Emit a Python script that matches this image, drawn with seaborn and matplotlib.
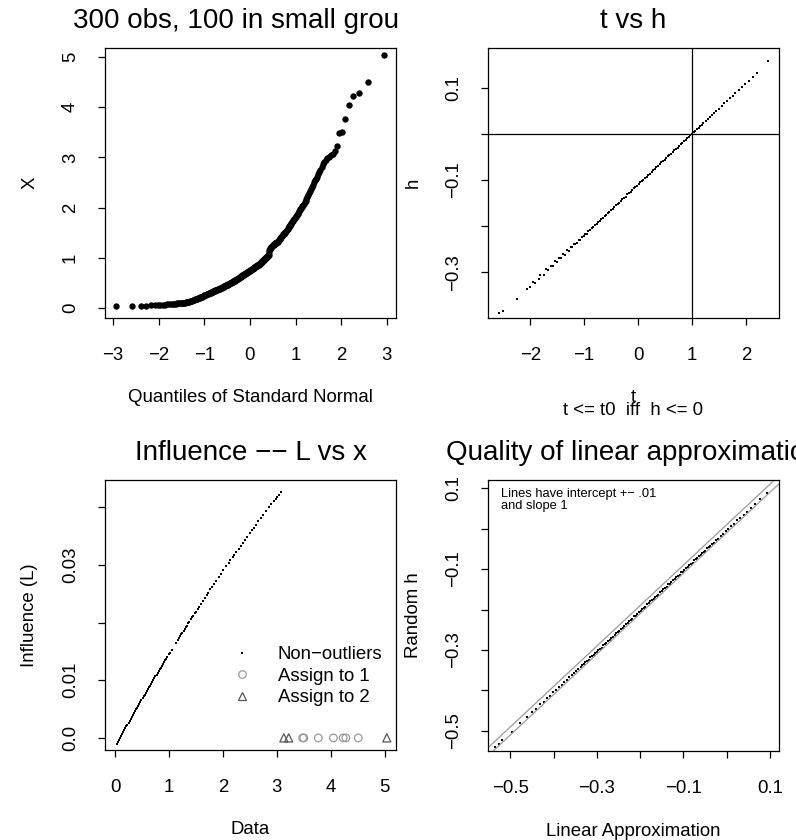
import numpy as np
import matplotlib
matplotlib.use("Agg")
import matplotlib.pyplot as plt
import seaborn as sns
from matplotlib.lines import Line2D
from matplotlib.transforms import Bbox, TransformedBbox
from statistics import NormalDist

# ---------------- data ----------------
# Panel 1: sorted sample X (300 obs); non-outliers first, outliers below
x_core = [
    0.04, 0.04, 0.04, 0.04, 0.05, 0.05, 0.05, 0.06, 0.06, 0.06, 0.07, 0.07, 0.07,
    0.08, 0.08, 0.08, 0.09, 0.09, 0.09, 0.09, 0.10, 0.10, 0.10, 0.10, 0.11,
    0.11, 0.12, 0.12, 0.13, 0.13, 0.14, 0.15, 0.15, 0.16, 0.17,
    0.17, 0.18, 0.18, 0.19, 0.19, 0.20, 0.21, 0.21, 0.22, 0.22, 0.23, 0.24, 0.25,
    0.25, 0.26, 0.26, 0.27, 0.27, 0.28, 0.28, 0.29, 0.29, 0.30, 0.30, 0.31, 0.31, 0.32, 0.32, 0.33,
    0.33, 0.34, 0.34, 0.35, 0.35, 0.35, 0.36, 0.36, 0.37, 0.37, 0.38, 0.38, 0.38, 0.39, 0.39,
    0.40, 0.40, 0.41, 0.41,
    0.42, 0.42, 0.43, 0.43, 0.44, 0.44, 0.45, 0.45, 0.45, 0.46, 0.46, 0.47, 0.47, 0.48, 0.48,
    0.49, 0.49, 0.49, 0.50, 0.50, 0.51,
    0.51, 0.52, 0.52, 0.53, 0.53, 0.54, 0.54, 0.55, 0.55, 0.56, 0.56, 0.57, 0.57, 0.58, 0.58,
    0.59, 0.59, 0.60, 0.60, 0.61, 0.61, 0.62, 0.63,
    0.63, 0.64, 0.64, 0.65, 0.65, 0.66, 0.66, 0.67, 0.67, 0.68, 0.68, 0.69, 0.69, 0.70, 0.70,
    0.71, 0.71, 0.72, 0.72, 0.73, 0.73, 0.74, 0.74,
    0.75, 0.75, 0.76, 0.76, 0.77, 0.77, 0.78, 0.78, 0.79, 0.80, 0.80, 0.81, 0.81, 0.82, 0.82,
    0.83, 0.83, 0.84, 0.84, 0.85, 0.85, 0.86, 0.86, 0.87,
    0.88, 0.88, 0.89, 0.90, 0.90, 0.91, 0.92, 0.93, 0.93, 0.94, 0.95, 0.96, 0.96, 0.97, 0.98,
    0.99, 1.00, 1.00, 1.01, 1.02, 1.03, 1.04, 1.05,
    1.06, 1.12, 1.15, 1.17, 1.19, 1.20, 1.21, 1.22, 1.23, 1.24, 1.25, 1.26, 1.26, 1.27, 1.28,
    1.29, 1.29, 1.30, 1.30, 1.31, 1.31,
    1.32, 1.33, 1.35, 1.36, 1.37, 1.38, 1.40, 1.41, 1.42, 1.43, 1.44, 1.45, 1.47, 1.48, 1.49,
    1.50, 1.51, 1.53, 1.54,
    1.56, 1.57, 1.59, 1.61, 1.63, 1.64, 1.66, 1.68, 1.70, 1.71, 1.73, 1.75, 1.77, 1.78, 1.80, 1.82,
    1.84, 1.86, 1.88, 1.90, 1.93, 1.95, 1.97, 1.99, 2.01, 2.04, 2.06, 2.08, 2.11,
    2.14, 2.18, 2.21, 2.25, 2.29, 2.33, 2.37, 2.41, 2.45, 2.50,
    2.54, 2.57, 2.61, 2.66, 2.70, 2.75, 2.80, 2.86,
    2.90, 2.94, 2.98, 3.01, 3.04, 3.07,
]
assign1_x = [3.48, 3.50, 3.77, 4.05, 4.23, 4.28, 4.51]   # "Assign to 1"
assign2_x = [3.13, 3.22, 5.04]                           # "Assign to 2"

# Panel 2: t vs h
t_h_pairs = [
    (-2.57, -0.389), (-2.51, -0.384), (-2.25, -0.357), (-2.06, -0.337), (-2.00, -0.331),
    (-1.95, -0.322), (-1.91, -0.323), (-1.84, -0.314), (-1.81, -0.306), (-1.75, -0.305),
    (-1.70, -0.293), (-1.66, -0.295), (-1.62, -0.286), (-1.58, -0.287), (-1.53, -0.275),
    (-1.50, -0.278), (-1.46, -0.268), (-1.42, -0.269), (-1.39, -0.260), (-1.35, -0.262),
    (-1.31, -0.252), (-1.28, -0.253), (-1.25, -0.245), (-1.22, -0.246), (-1.19, -0.239),
    (-1.16, -0.238), (-1.13, -0.236), (-1.10, -0.230), (-1.07, -0.229), (-1.04, -0.223),
    (-1.01, -0.222), (-0.98, -0.216), (-0.95, -0.216), (-0.92, -0.210), (-0.89, -0.209),
    (-0.86, -0.203), (-0.83, -0.202), (-0.80, -0.197), (-0.77, -0.196), (-0.74, -0.190),
    (-0.71, -0.189), (-0.68, -0.184), (-0.65, -0.182), (-0.62, -0.177), (-0.59, -0.176),
    (-0.56, -0.171), (-0.53, -0.169), (-0.50, -0.164), (-0.47, -0.162), (-0.44, -0.158),
    (-0.41, -0.155), (-0.38, -0.151), (-0.35, -0.149), (-0.32, -0.145), (-0.29, -0.142),
    (-0.26, -0.138), (-0.23, -0.136), (-0.20, -0.131), (-0.17, -0.129), (-0.14, -0.125),
    (-0.11, -0.122), (-0.08, -0.118), (-0.05, -0.116), (-0.02, -0.112), (0.01, -0.109),
    (0.04, -0.105), (0.07, -0.102), (0.10, -0.099), (0.13, -0.095), (0.16, -0.093),
    (0.19, -0.089), (0.22, -0.086), (0.25, -0.082), (0.28, -0.079), (0.31, -0.076),
    (0.34, -0.072), (0.37, -0.069), (0.40, -0.066), (0.43, -0.062), (0.46, -0.059),
    (0.49, -0.056), (0.52, -0.053), (0.55, -0.049), (0.58, -0.046), (0.61, -0.043),
    (0.64, -0.040), (0.67, -0.036), (0.70, -0.033), (0.73, -0.030), (0.76, -0.026),
    (0.79, -0.023), (0.82, -0.020), (0.85, -0.016), (0.88, -0.013), (0.91, -0.010),
    (0.94, -0.007), (0.97, -0.003), (1.00, 0.000), (1.03, 0.003), (1.06, 0.007),
    (1.09, 0.010), (1.12, 0.013), (1.15, 0.017), (1.18, 0.020), (1.21, 0.023),
    (1.25, 0.028), (1.29, 0.032), (1.33, 0.036), (1.37, 0.041), (1.41, 0.045),
    (1.45, 0.050), (1.50, 0.054), (1.55, 0.061), (1.60, 0.066), (1.65, 0.071),
    (1.70, 0.078), (1.75, 0.082), (1.80, 0.089), (1.86, 0.094), (1.92, 0.102),
    (1.98, 0.107), (2.05, 0.115), (2.12, 0.124), (2.20, 0.131), (2.40, 0.157),
]
t0 = 1.0
h0 = 0.0

# Panel 3: Influence L vs data x (non-outliers)
x_L_pairs = [
    (0.03, -0.00100), (0.05, -0.00066), (0.07, -0.00033), (0.09, 0.00001), (0.11, 0.00034),
    (0.13, 0.00067), (0.15, 0.00100), (0.17, 0.00133), (0.19, 0.00166), (0.21, 0.00199),
    (0.23, 0.00232), (0.25, 0.00265), (0.27, 0.00298), (0.29, 0.00330), (0.31, 0.00363),
    (0.33, 0.00396), (0.35, 0.00428), (0.37, 0.00461), (0.39, 0.00493), (0.41, 0.00525),
    (0.43, 0.00558), (0.45, 0.00590), (0.47, 0.00622), (0.49, 0.00654), (0.51, 0.00686),
    (0.53, 0.00718), (0.55, 0.00750), (0.57, 0.00782), (0.59, 0.00813), (0.61, 0.00845),
    (0.63, 0.00877), (0.65, 0.00908), (0.67, 0.00940), (0.69, 0.00971), (0.71, 0.01002),
    (0.73, 0.01034), (0.75, 0.01065), (0.77, 0.01096), (0.79, 0.01127), (0.81, 0.01158),
    (0.83, 0.01189), (0.85, 0.01220), (0.87, 0.01251), (0.89, 0.01282), (0.91, 0.01313),
    (0.93, 0.01343), (0.95, 0.01374), (0.97, 0.01404), (1.00, 0.01450), (1.02, 0.01480),
    (1.05, 0.01526), (1.13, 0.01646), (1.16, 0.01691), (1.19, 0.01736), (1.21, 0.01766),
    (1.23, 0.01795), (1.25, 0.01825), (1.27, 0.01855), (1.29, 0.01884), (1.31, 0.01914),
    (1.33, 0.01943), (1.36, 0.01987), (1.38, 0.02016), (1.41, 0.02060), (1.43, 0.02089),
    (1.45, 0.02118), (1.48, 0.02161), (1.50, 0.02190), (1.53, 0.02233), (1.56, 0.02276),
    (1.59, 0.02319), (1.63, 0.02376), (1.66, 0.02418), (1.70, 0.02475), (1.73, 0.02517),
    (1.77, 0.02573), (1.80, 0.02615), (1.84, 0.02670), (1.88, 0.02726), (1.93, 0.02794),
    (1.97, 0.02849), (2.01, 0.02904), (2.06, 0.02971), (2.11, 0.03039), (2.14, 0.03079),
    (2.18, 0.03132), (2.21, 0.03172), (2.25, 0.03225), (2.29, 0.03278), (2.33, 0.03330),
    (2.37, 0.03382), (2.41, 0.03434), (2.45, 0.03486), (2.50, 0.03550), (2.54, 0.03601),
    (2.57, 0.03639), (2.61, 0.03690), (2.66, 0.03753), (2.70, 0.03803), (2.75, 0.03865),
    (2.80, 0.03927), (2.86, 0.04000), (2.90, 0.04049), (2.94, 0.04098), (2.98, 0.04146),
    (3.01, 0.04182), (3.04, 0.04218), (3.07, 0.04254),
]
outlier_L = 0.0

# Panel 4: linear approximation vs random h
lin_h_pairs = [
    (-0.535, -0.541), (-0.527, -0.533), (-0.519, -0.522), (-0.497, -0.502), (-0.478, -0.481),
    (-0.462, -0.467), (-0.450, -0.453), (-0.440, -0.445), (-0.431, -0.434), (-0.423, -0.428),
    (-0.415, -0.418), (-0.408, -0.413), (-0.401, -0.404), (-0.394, -0.399), (-0.388, -0.391),
    (-0.382, -0.386), (-0.376, -0.380), (-0.370, -0.374), (-0.364, -0.368), (-0.358, -0.363),
    (-0.353, -0.356), (-0.348, -0.353), (-0.343, -0.346), (-0.338, -0.342),
    (-0.334, -0.338), (-0.330, -0.335), (-0.327, -0.330), (-0.323, -0.327), (-0.319, -0.324),
    (-0.315, -0.318), (-0.312, -0.316), (-0.308, -0.313), (-0.304, -0.307), (-0.300, -0.305),
    (-0.297, -0.300), (-0.293, -0.297), (-0.289, -0.294), (-0.285, -0.288), (-0.282, -0.286),
    (-0.278, -0.283), (-0.274, -0.277), (-0.270, -0.275), (-0.267, -0.270), (-0.263, -0.267),
    (-0.259, -0.264), (-0.255, -0.258), (-0.252, -0.256), (-0.248, -0.253), (-0.244, -0.247),
    (-0.240, -0.245), (-0.237, -0.240), (-0.233, -0.237), (-0.229, -0.234), (-0.225, -0.228),
    (-0.222, -0.226), (-0.218, -0.223), (-0.214, -0.217), (-0.210, -0.215), (-0.207, -0.210),
    (-0.203, -0.207), (-0.199, -0.204), (-0.195, -0.198), (-0.192, -0.196), (-0.188, -0.193),
    (-0.184, -0.187), (-0.180, -0.185), (-0.177, -0.180), (-0.173, -0.177), (-0.169, -0.174),
    (-0.165, -0.168), (-0.162, -0.166), (-0.158, -0.163), (-0.154, -0.157), (-0.150, -0.155),
    (-0.147, -0.150), (-0.143, -0.147), (-0.139, -0.144), (-0.135, -0.138), (-0.132, -0.136),
    (-0.128, -0.133), (-0.124, -0.127), (-0.120, -0.125), (-0.117, -0.120), (-0.113, -0.117),
    (-0.109, -0.114), (-0.105, -0.108), (-0.102, -0.106), (-0.098, -0.103), (-0.094, -0.097),
    (-0.090, -0.095), (-0.087, -0.090), (-0.083, -0.087), (-0.079, -0.084), (-0.075, -0.078),
    (-0.072, -0.076), (-0.068, -0.073), (-0.064, -0.067), (-0.060, -0.065), (-0.057, -0.060),
    (-0.053, -0.057), (-0.049, -0.054), (-0.045, -0.048), (-0.042, -0.046), (-0.038, -0.043),
    (-0.034, -0.037), (-0.030, -0.035),
    (-0.025, -0.029), (-0.020, -0.025), (-0.014, -0.017), (-0.008, -0.013), (-0.002, -0.005),
    (0.004, -0.001), (0.010, 0.007), (0.017, 0.012), (0.024, 0.021), (0.031, 0.026),
    (0.039, 0.035), (0.047, 0.042), (0.056, 0.052), (0.066, 0.061), (0.078, 0.074),
    (0.094, 0.089),
]
band_intercepts = [0.01, -0.01]
band_slope = 1.0

# tick labels
p1_xticks = [-3, -2, -1, 0, 1, 2, 3]
p1_yticks = [0, 1, 2, 3, 4, 5]
p2_xticks = [-2, -1, 0, 1, 2]
p2_yticks = [-0.3, -0.2, -0.1, 0.0, 0.1]
p2_ylabels = ["\u22120.3", "", "\u22120.1", "", "0.1"]
p3_xticks = [0, 1, 2, 3, 4, 5]
p3_yticks = [0.0, 0.01, 0.02, 0.03, 0.04]
p3_ylabels = ["0.0", "0.01", "", "0.03", ""]
p4_ticks = [-0.5, -0.4, -0.3, -0.2, -0.1, 0.0, 0.1]
p4_labels = ["\u22120.5", "", "\u22120.3", "", "\u22120.1", "", "0.1"]


def num_label(v):
    s = f"{v:g}"
    return s.replace("-", "\u2212")


# ---------------- figure ----------------
W, H, DPI = 796, 840, 100
sns.set_style("ticks")
plt.rcParams.update({
    "axes.edgecolor": "black",
    "axes.linewidth": 0.9,
    "xtick.color": "black",
    "ytick.color": "black",
    "text.color": "black",
    "axes.labelcolor": "black",
})
plt.rcParams["font.family"] = ["Liberation Sans", "DejaVu Sans"]

FS = 13.4
TFS = 20.0

fig = plt.figure(figsize=(W / DPI, H / DPI), dpi=DPI)
fig.patch.set_facecolor("white")


def add_ax(l, t, r, b):
    return fig.add_axes([l / W, 1 - b / H, (r - l) / W, (b - t) / H])


def style(ax, xlim, ylim, xt, xl, yt, yl):
    ax.set_xlim(*xlim)
    ax.set_ylim(*ylim)
    ax.set_xticks(xt)
    ax.set_xticklabels(xl)
    ax.set_yticks(yt)
    ax.set_yticklabels(yl, rotation=90, va="center")
    for s in ax.spines.values():
        s.set_visible(True)
        s.set_color("black")
        s.set_linewidth(0.9)
    ax.tick_params(axis="both", direction="out", length=4.8, width=0.9,
                   color="black", labelsize=FS, labelcolor="black")
    ax.tick_params(axis="x", pad=15.8)
    ax.tick_params(axis="y", pad=13.9)
    ax.set_facecolor("white")


def labels(ax, xlab, ylab, w_px=291, h_px=270):
    ax.set_xlabel(xlab, fontsize=FS)
    ax.xaxis.set_label_coords(0.5, -71.5 / h_px)
    ax.set_ylabel(ylab, fontsize=FS)
    ax.yaxis.set_label_coords(-66.5 / w_px, 0.5)


# ---- Panel 1: QQ plot ----
ax1 = add_ax(105, 48, 396, 318)
sample = np.sort(np.array(x_core + assign1_x + assign2_x))
n = len(sample)
probs = (np.arange(1, n + 1) - 0.5) / n
theo = np.array([NormalDist().inv_cdf(p) for p in probs])
sns.scatterplot(x=theo, y=sample, ax=ax1, color="black", s=21, linewidth=0, legend=False)
style(ax1, (-3.175, 3.2), (-0.2, 5.18), p1_xticks, [num_label(v) for v in p1_xticks],
      p1_yticks, [num_label(v) for v in p1_yticks])
labels(ax1, "Quantiles of Standard Normal", "X")
t1 = ax1.set_title("300 obs, 100 in small groups", fontsize=TFS, pad=14.6)
t1.set_clip_box(TransformedBbox(Bbox([[0, 0.5], [398.5 / W, 1]]), fig.transFigure))
t1.set_clip_on(True)

# ---- Panel 2: t vs h ----
ax2 = add_ax(488, 48, 779, 318)
t_vals = [p[0] for p in t_h_pairs]
h_vals = [p[1] for p in t_h_pairs]
sns.scatterplot(x=t_vals, y=h_vals, ax=ax2, color="black", marker="s", s=3.4,
                linewidth=0, legend=False)
ax2.axhline(h0, color="black", lw=0.9)
ax2.axvline(t0, color="black", lw=0.9)
style(ax2, (-2.78, 2.61), (-0.399, 0.186), p2_xticks, [num_label(v) for v in p2_xticks],
      p2_yticks, p2_ylabels)
labels(ax2, "t", "h")
ax2.text(0.5, -(415 - 318) / 270, "t <= t0  iff  h <= 0", transform=ax2.transAxes,
         ha="center", va="baseline", fontsize=FS)
ax2.set_title("t vs h", fontsize=TFS, pad=14.6)

# ---- Panel 3: Influence ----
ax3 = add_ax(105, 480, 396, 750)
xi = [p[0] for p in x_L_pairs]
Li = [p[1] for p in x_L_pairs]
sns.scatterplot(x=xi, y=Li, ax=ax3, color="black", marker="s", s=3.0,
                linewidth=0, legend=False)
c1 = "#9a9a9a"
c2 = "#555555"
ax3.scatter(assign1_x, [outlier_L] * len(assign1_x), s=30, marker="o",
            facecolors="none", edgecolors=c1, linewidths=0.9)
ax3.scatter(assign2_x, [outlier_L] * len(assign2_x), s=34, marker="^",
            facecolors="none", edgecolors=c2, linewidths=0.9)
style(ax3, (-0.186, 5.21), (-0.0021, 0.0447), p3_xticks, [num_label(v) for v in p3_xticks],
      p3_yticks, p3_ylabels)
labels(ax3, "Data", "Influence (L)")
ax3.set_title("Influence \u2212\u2212 L vs x", fontsize=TFS, pad=14.6)
handles = [
    Line2D([], [], ls="none", marker="s", markersize=1.6, color="black", markeredgewidth=0),
    Line2D([], [], ls="none", marker="o", markersize=5.4, markerfacecolor="none",
           markeredgecolor=c1, markeredgewidth=0.9),
    Line2D([], [], ls="none", marker="^", markersize=5.8, markerfacecolor="none",
           markeredgecolor=c2, markeredgewidth=0.9),
]
ax3.legend(handles, ["Non\u2212outliers", "Assign to 1", "Assign to 2"],
           loc="upper left", bbox_to_anchor=(232.7 / W, 1 - 646.0 / H),
           bbox_transform=fig.transFigure, frameon=False, borderpad=0,
           borderaxespad=0, handlelength=1.0, handletextpad=1.43,
           labelspacing=0.25, fontsize=FS)

# ---- Panel 4: Quality of linear approximation ----
ax4 = add_ax(488, 480, 779, 751)
lx = [p[0] for p in lin_h_pairs]
ly = [p[1] for p in lin_h_pairs]
for b in band_intercepts:
    ax4.axline((0.0, b), slope=band_slope, color="#9a9a9a", lw=0.9)
sns.scatterplot(x=lx, y=ly, ax=ax4, color="black", marker="s", s=4.5,
                linewidth=0, legend=False)
style(ax4, (-0.552, 0.121), (-0.550, 0.1205), p4_ticks, p4_labels, p4_ticks, p4_labels)
labels(ax4, "Linear Approximation", "Random h", w_px=291, h_px=271)
ax4.text((501 - 488) / 291, 1 - 17 / 271, "Lines have intercept +\u2212 .01",
         transform=ax4.transAxes, ha="left", va="baseline", fontsize=9.3)
ax4.text((501 - 488) / 291, 1 - 29.5 / 271, "and slope 1",
         transform=ax4.transAxes, ha="left", va="baseline", fontsize=9.3)
ax4.set_title("Quality of linear approximation", fontsize=TFS, pad=14.6)

fig.savefig("out.png", dpi=DPI, facecolor="white")
